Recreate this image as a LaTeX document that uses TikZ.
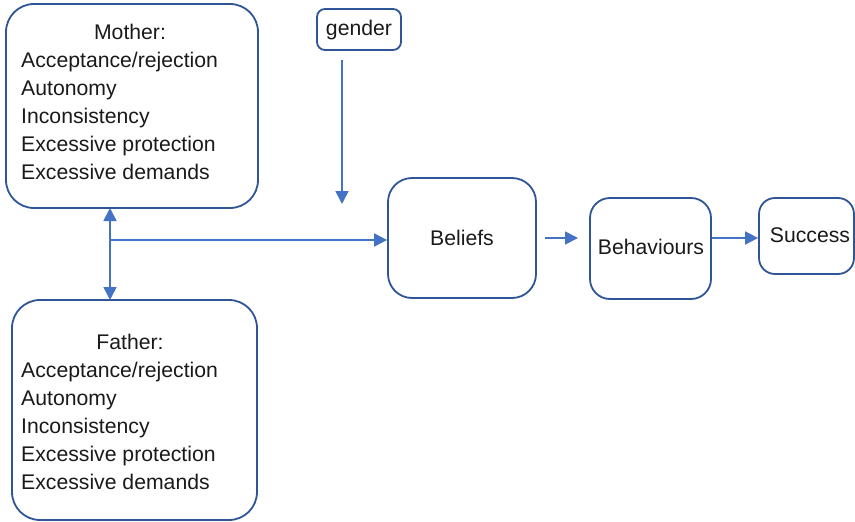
\documentclass[tikz,border=0pt]{standalone}
\usepackage{fontspec}
\setmainfont{Liberation Sans}
\usetikzlibrary{arrows.meta}
\definecolor{boxline}{HTML}{2F5597}
\definecolor{arrowline}{HTML}{4472C4}
\definecolor{ink}{HTML}{1A1A1A}
\begin{document}
\begin{tikzpicture}[x=1pt,y=-1pt,
  box/.style={draw=boxline,line width=1.8pt,rounded corners=#1,inner sep=0pt,fill=white},
  box/.default=28pt,
  label/.style={inner sep=0pt,text=ink,font=\fontsize{21.2}{28}\selectfont},
  item/.style={label,anchor=base west},
  head/.style={label,anchor=base},
  conn/.style={draw=arrowline,line width=1.8pt,-{Triangle[length=13pt,width=13pt]}},
  bothconn/.style={draw=arrowline,line width=1.8pt,{Triangle[length=13pt,width=13pt]}-{Triangle[length=13pt,width=13pt]}}]
\useasboundingbox (0,0) rectangle (855,522);

% boxes
\node[box,minimum width=252pt,minimum height=204pt] (mother) at (132,106) {};
\node[box,minimum width=245pt,minimum height=220pt] (father) at (134.5,410) {};
\node[box=8pt,minimum width=84pt,minimum height=41pt] (gender) at (359,29.5) {};
\node[box=24pt,minimum width=148pt,minimum height=120pt] (beliefs) at (462,238) {};
\node[box=20pt,minimum width=121pt,minimum height=101pt] (behav) at (650.5,248.5) {};
\node[box=16pt,minimum width=95pt,minimum height=76pt] (success) at (806.5,236) {};

% box texts
\node[head] (genderT) at (359,35.5) {gender};
\node[head] (beliefsT) at (462,245.5) {Beliefs};
\node[head] (behavT) at (651,254) {Behaviours};
\node[head] (successT) at (810,242) {Success};

\node[head] (motherH) at (130,39.5) {Mother:};
\node[item] (m1) at (21,67.3) {Acceptance/rejection};
\node[item] (m2) at (21,95.3) {Autonomy};
\node[item] (m3) at (21,123.3) {Inconsistency};
\node[item] (m4) at (21,151.5) {Excessive protection};
\node[item] (m5) at (21,179.5) {Excessive demands};

\node[head] (fatherH) at (130,349) {Father:};
\node[item] (f1) at (21,377) {Acceptance/rejection};
\node[item] (f2) at (21,405) {Autonomy};
\node[item] (f3) at (21,433) {Inconsistency};
\node[item] (f4) at (21,461) {Excessive protection};
\node[item] (f5) at (21,489.3) {Excessive demands};

% connector end points
\coordinate (mb) at (110,208);
\coordinate (ft) at (110,300);
\coordinate (junc) at (110,240);
\coordinate (gs) at (342,60);
\coordinate (ge) at (342,204);
\coordinate (bs) at (545,238);
\coordinate (be) at (578,238);

% connectors
\draw[bothconn] (mb) -- (ft);
\draw[conn] (junc) -- (beliefs.west |- junc);
\draw[conn] (gs) -- (ge);
\draw[conn] (bs) -- (be);
\draw[conn] (behav.east |- be) -- (success.west |- be);
\end{tikzpicture}
\end{document}
